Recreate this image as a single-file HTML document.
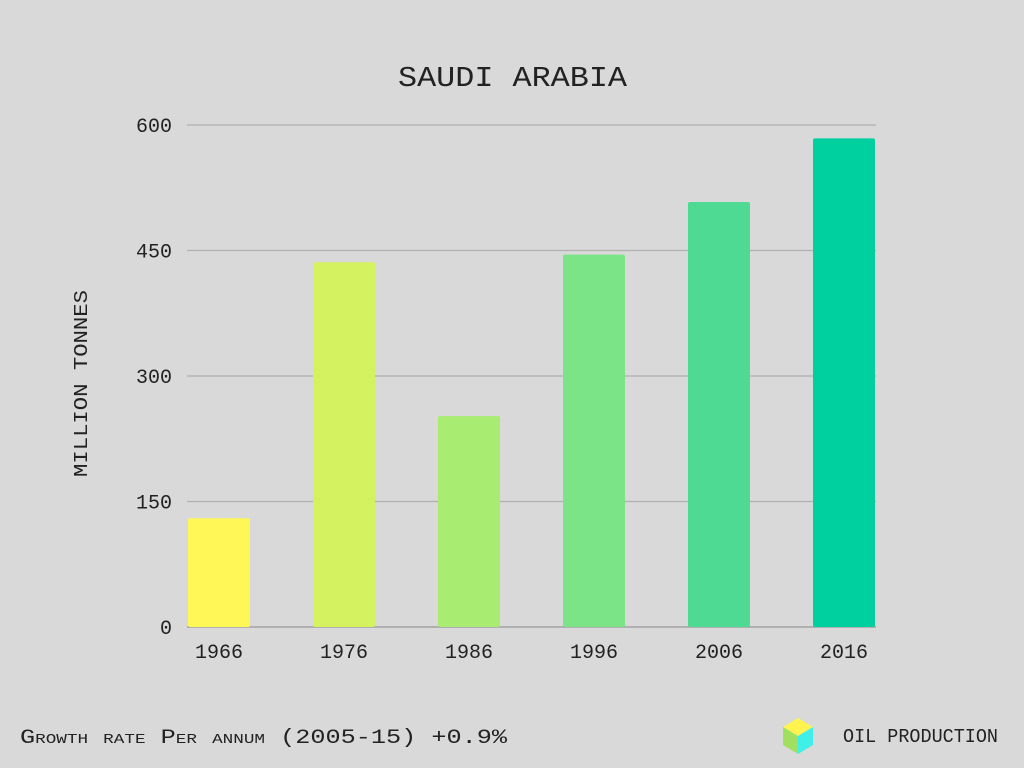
<!DOCTYPE html>
<html><head><meta charset="utf-8"><style>
body{margin:0;background:#d9d9d9;}
svg{display:block;font-family:"Liberation Mono","DejaVu Sans Mono",monospace;}
</style></head><body>
<svg width="1024" height="768" viewBox="0 0 1024 768">
<rect width="1024" height="768" fill="#d9d9d9"/>
<text x="398" y="86" textLength="229" lengthAdjust="spacingAndGlyphs" font-size="29" fill="#222">SAUDI ARABIA</text>
<text transform="translate(87,477) rotate(-90)" textLength="187" lengthAdjust="spacingAndGlyphs" font-size="19" fill="#222">MILLION TONNES</text>
<g id="grid"></g><g id="bars"></g><g id="xl"></g>
<text x="20" y="743" textLength="487" lengthAdjust="spacingAndGlyphs" font-size="20" fill="#222" style="font-variant:small-caps">Growth rate Per annum (2005-15) +0.9%</text>
<g>
<polygon points="798,718 813,727 798,736 783,727" fill="#fff350"/>
<polygon points="783,727 798,736 798,754 783,745" fill="#9fe060"/>
<polygon points="798,736 813,727 813,745 798,754" fill="#40f0e8"/>
</g>
<text x="843" y="742" textLength="155" lengthAdjust="spacingAndGlyphs" font-size="19" fill="#222">OIL PRODUCTION</text>
</svg>
<script>
const categories=["1966","1976","1986","1996","2006","2016"];
const values=[130,436,252,445,508,584];
const ticks=[0,150,300,450,600];
const colors=["#fff757","#d4f25f","#a8ec72","#7be486","#4fda94","#00cfa0"];
const NS="http://www.w3.org/2000/svg";
const y0=627,y1=125,vmax=600;
function y(v){return y0-(y0-y1)*v/vmax;}
function x(i){return 188+125*i;}
const bw=62;
const g=document.getElementById('grid'),b=document.getElementById('bars'),xl=document.getElementById('xl');
ticks.forEach(t=>{
 const l=document.createElementNS(NS,'line');
 
 
 l.setAttribute('x1',187);l.setAttribute('x2',876);l.setAttribute('y1',y(t));l.setAttribute('y2',y(t));
 l.setAttribute('stroke',t===0?'#999':'#b0b0b0');l.setAttribute('stroke-width',1.3);g.appendChild(l);
 const tx=document.createElementNS(NS,'text');
 
 
 tx.setAttribute('x',172);tx.setAttribute('y',y(t)+7);tx.setAttribute('text-anchor','end');tx.setAttribute('font-size',20);tx.setAttribute('fill','#222');tx.textContent=t;g.appendChild(tx);
});
categories.forEach((c,i)=>{
 const r=document.createElementNS(NS,'rect');
 
 
 r.setAttribute('x',x(i));r.setAttribute('y',y(values[i]));r.setAttribute('width',bw);r.setAttribute('height',y0-y(values[i]));r.setAttribute('rx',2);r.setAttribute('fill',colors[i]);b.appendChild(r);
 const t=document.createElementNS(NS,'text');
 
 
 t.setAttribute('x',x(i)+bw/2);t.setAttribute('y',658);t.setAttribute('text-anchor','middle');t.setAttribute('font-size',20);t.setAttribute('fill','#222');t.textContent=c;xl.appendChild(t);
});
</script>
</body></html>
